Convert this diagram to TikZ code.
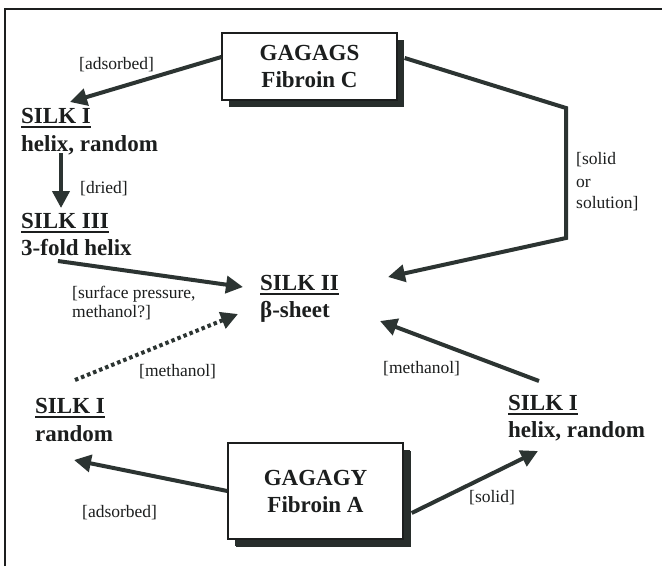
\documentclass[tikz,border=0pt]{standalone}
\usepackage{fontspec}
\setmainfont{Liberation Serif}
\usetikzlibrary{arrows.meta,calc,shadows}
\definecolor{ink}{RGB}{28,30,30}
\definecolor{arrowcol}{RGB}{44,52,50}
\definecolor{shadowcol}{RGB}{40,46,44}
\tikzset{
  title/.style={anchor=base west,inner sep=0pt,text=ink,font=\bfseries\fontsize{23}{26}\selectfont},
  sub/.style={anchor=base west,inner sep=0pt,text=ink,font=\bfseries\fontsize{23}{26}\selectfont},
  lbl/.style={anchor=base west,inner sep=0pt,text=ink,font=\fontsize{17.5}{20}\selectfont},
  ul/.style={draw=ink,line width=2pt},
  arr/.style={draw=arrowcol,line width=4pt,-{Triangle[length=17pt,width=17pt]}},
  dotarr/.style={arr,dash pattern=on 3.5pt off 3pt},
  gbox/.style={draw=ink,line width=1.4pt,fill=white,align=center,text=ink,
    font=\bfseries\fontsize{23}{27}\selectfont,
    general shadow={fill=shadowcol,shadow xshift=7pt,shadow yshift=-7pt}},
}
\begin{document}
\begin{tikzpicture}[x=1pt,y=-1pt]
\useasboundingbox (0,0) rectangle (662,566);
\fill[white] (0,0) rectangle (662,566);
% frame
\draw[ink,line width=2pt] (5,566) -- (5,9) -- (662,9);

% boxes
\node[gbox,minimum width=175pt,minimum height=67pt] (gc) at (309.5,66.5) {GAGAGS\\Fibroin C};
\node[gbox,minimum width=175pt,minimum height=96pt,
  general shadow={fill=shadowcol,shadow xshift=8pt,shadow yshift=-8pt}] (ga) at (315.5,491) {GAGAGY\\Fibroin A};

% state labels
\node[title] (s1a) at (21,123) {SILK I};
\node[sub] (s1a2) at (21,151) {helix, random};
\node[title] (s3) at (21,228) {SILK III};
\node[sub] (s3b) at (21,255) {3-fold helix};
\node[title] (s2) at (260,290) {SILK II};
\node[sub] (s2b) at (260,317) {β-sheet};
\node[title] (s1b) at (35,413) {SILK I};
\node[sub] (s1b2) at (35,441) {random};
\node[title] (s1r) at (508,410) {SILK I};
\node[sub] (s1r2) at (508,437) {helix, random};

\foreach \n in {s1a,s3,s2,s1b,s1r}
  \draw[ul] ($(\n.base west)+(0,4)$) -- ($(\n.base east)+(0,4)$);

% condition labels
\node[lbl] (lad1) at (79,69) {[adsorbed]};
\node[lbl] (ldr) at (80,193) {[dried]};
\node[lbl] (lsp1) at (72,298) {[surface pressure,};
\node[lbl] (lsp2) at (72,317) {methanol?]};
\node[lbl] (lme1) at (139,376) {[methanol]};
\node[lbl] (lad2) at (82,517) {[adsorbed]};
\node[lbl] (lme2) at (383,373) {[methanol]};
\node[lbl] (lso) at (469,502) {[solid]};
\node[lbl] (lss1) at (576,164) {[solid};
\node[lbl] (lss2) at (576,187) {or};
\node[lbl] (lss3) at (576,208) {solution]};

% connectors
\draw[arr] ($(gc.west)+(0,-9.5)$) -- ($(s1a.base west)+(49,-21)$);
\draw[arr] ($(s1a2.base west)+(40,2)$) -- ($(s3.base west)+(40,-20)$);
\draw[arr] ($(s3b.base west)+(37,6)$) -- ($(s2.base west)+(-17,-3)$);
\draw[dotarr] ($(s1b.base west)+(40,-33)$) -- ($(s2b.base west)+(-22,-3)$);
\draw[arr] ($(s1r.base west)+(31,-29)$) -- ($(s2b.base west)+(120,4)$);
\draw[arr] (ga.west) -- ($(s1b2.base west)+(39,19)$);
\draw[arr] ($(ga.east)+(8,22)$) -- ($(s1r2.base west)+(30,14)$);
\draw[arr,line join=miter] ($(gc.east)+(7,-8.5)$) -- (566,108) -- (566,238) -- ($(s2.base west)+(128,-13)$);
\end{tikzpicture}
\end{document}
